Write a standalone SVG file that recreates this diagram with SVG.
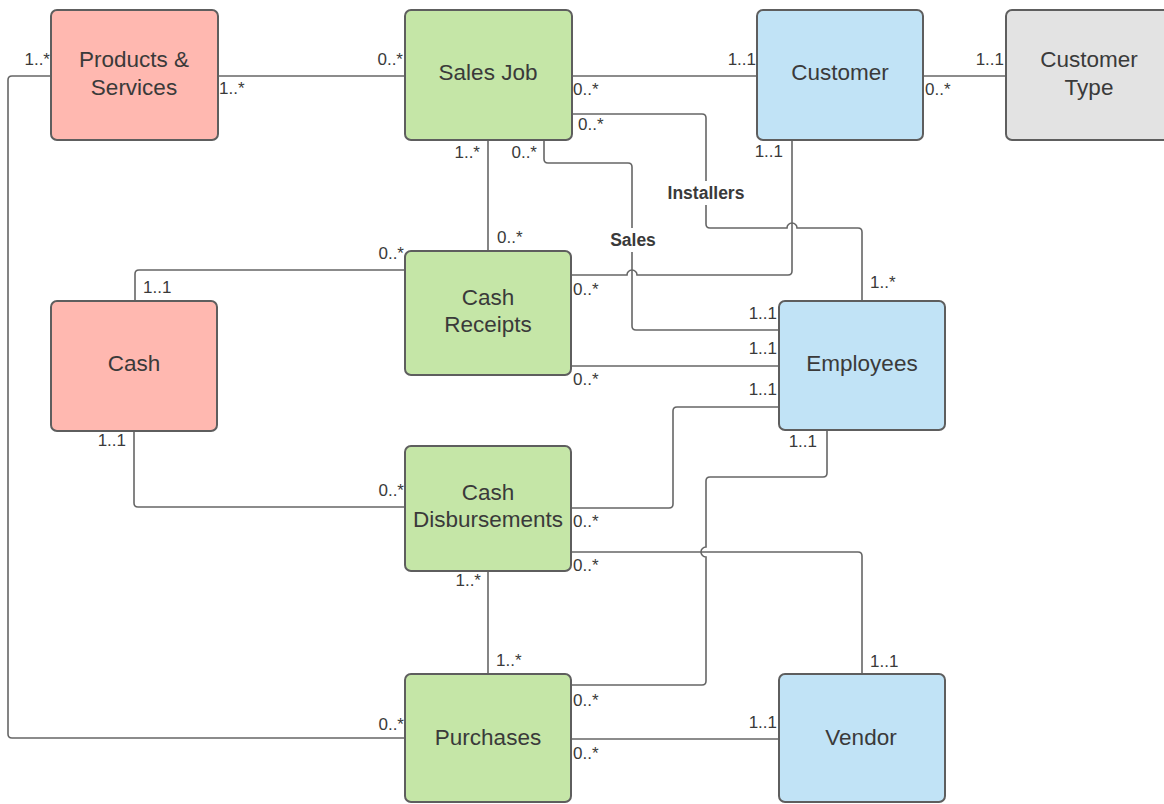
<svg xmlns="http://www.w3.org/2000/svg" width="1164" height="804" viewBox="0 0 1164 804">
<style>
.box{stroke:#5e5e5e;stroke-width:2}
.red{fill:#ffb8b0}.green{fill:#c5e6a7}.blue{fill:#c1e3f6}.gray{fill:#e3e3e3}
.nt{font-family:"Liberation Sans",Arial,sans-serif;font-size:22.5px;fill:#3a3a3a;text-anchor:middle;dominant-baseline:central}
.conn path{fill:none;stroke:#666;stroke-width:1.6}
.lb{font-family:"Liberation Sans",Arial,sans-serif;font-size:17px;fill:#3a3a3a}
.e{text-anchor:end}
.bl{font-family:"Liberation Sans",Arial,sans-serif;font-size:17.5px;font-weight:bold;fill:#3a3a3a;text-anchor:middle;dominant-baseline:central}
</style>
<rect width="1164" height="804" fill="#ffffff"/>
<g id="connectors" class="conn">
<path d="M218,76 H405"/>
<path d="M51,76 H12 Q8,76 8,80 V734 Q8,738 12,738 H405"/>
<path d="M572,76 H757"/>
<path d="M923,76 H1006"/>
<path d="M572,114 H702 Q706,114 706,118 V224 Q706,228 710,228 H787 A5,5 0 0 1 797,228 H858 Q862,228 862,232 V301"/>
<path d="M544,140 V159 Q544,163 548,163 H628 Q632,163 632,167 V326 Q632,330 636,330 H779"/>
<path d="M488,140 V251"/>
<path d="M405,270 H139 Q135,270 135,274 V301"/>
<path d="M571,275 H627 A5,5 0 0 1 637,275 H788 Q792,275 792,271 V140"/>
<path d="M571,366 H779"/>
<path d="M571,508 H669 Q673,508 673,504 V411 Q673,407 677,407 H779"/>
<path d="M827,430 V473 Q827,477 823,477 H710 Q706,477 706,481 V547 A5,5 0 0 0 706,557 V681 Q706,685 702,685 H571"/>
<path d="M571,552 H858 Q862,552 862,556 V674"/>
<path d="M134,431 V503 Q134,507 138,507 H405"/>
<path d="M488,571 V674"/>
<path d="M571,739 H779"/>
<rect x="662" y="181" width="88" height="24" fill="#ffffff"/>
<text class="bl" x="706" y="193">Installers</text>
<rect x="606" y="228" width="54" height="24" fill="#ffffff"/>
<text class="bl" x="633" y="240">Sales</text>
<text class="lb e" x="50" y="65">1..*</text>
<text class="lb" x="219" y="94">1..*</text>
<text class="lb e" x="403" y="65">0..*</text>
<text class="lb" x="573" y="95">0..*</text>
<text class="lb e" x="756" y="65">1..1</text>
<text class="lb" x="925" y="95">0..*</text>
<text class="lb e" x="1004" y="65">1..1</text>
<text class="lb" x="578" y="130">0..*</text>
<text class="lb" x="870" y="288">1..*</text>
<text class="lb e" x="537" y="158">0..*</text>
<text class="lb e" x="777" y="319">1..1</text>
<text class="lb e" x="480" y="158">1..*</text>
<text class="lb" x="497" y="243">0..*</text>
<text class="lb e" x="404" y="259">0..*</text>
<text class="lb" x="143" y="293">1..1</text>
<text class="lb" x="573" y="295">0..*</text>
<text class="lb e" x="783" y="157">1..1</text>
<text class="lb" x="573" y="385">0..*</text>
<text class="lb e" x="777" y="354">1..1</text>
<text class="lb" x="573" y="527">0..*</text>
<text class="lb e" x="777" y="395">1..1</text>
<text class="lb e" x="817" y="447">1..1</text>
<text class="lb" x="573" y="706">0..*</text>
<text class="lb" x="573" y="571">0..*</text>
<text class="lb" x="870" y="667">1..1</text>
<text class="lb e" x="126" y="446">1..1</text>
<text class="lb e" x="404" y="496">0..*</text>
<text class="lb e" x="481" y="586">1..*</text>
<text class="lb" x="496" y="666">1..*</text>
<text class="lb" x="573" y="759">0..*</text>
<text class="lb e" x="777" y="728">1..1</text>
<text class="lb e" x="404" y="730">0..*</text>
</g>
<g id="products-services"><rect class="box red" x="51" y="10" width="167" height="130" rx="6"/><text class="nt" x="134" y="59">Products &amp;</text><text class="nt" x="134" y="87">Services</text></g>
<g id="sales-job"><rect class="box green" x="405" y="10" width="167" height="130" rx="6"/><text class="nt" x="488" y="72">Sales Job</text></g>
<g id="customer"><rect class="box blue" x="757" y="10" width="166" height="130" rx="6"/><text class="nt" x="840" y="72">Customer</text></g>
<g id="customer-type"><rect class="box gray" x="1006" y="10" width="167" height="130" rx="6"/><text class="nt" x="1089" y="59">Customer</text><text class="nt" x="1089" y="87">Type</text></g>
<g id="cash-receipts"><rect class="box green" x="405" y="251" width="166" height="124" rx="6"/><text class="nt" x="488" y="297">Cash</text><text class="nt" x="488" y="324">Receipts</text></g>
<g id="cash"><rect class="box red" x="51" y="301" width="166" height="130" rx="6"/><text class="nt" x="134" y="363">Cash</text></g>
<g id="employees"><rect class="box blue" x="779" y="301" width="166" height="129" rx="6"/><text class="nt" x="862" y="363">Employees</text></g>
<g id="cash-disbursements"><rect class="box green" x="405" y="446" width="166" height="125" rx="6"/><text class="nt" x="488" y="492">Cash</text><text class="nt" x="488" y="519">Disbursements</text></g>
<g id="purchases"><rect class="box green" x="405" y="674" width="166" height="128" rx="6"/><text class="nt" x="488" y="737">Purchases</text></g>
<g id="vendor"><rect class="box blue" x="779" y="674" width="166" height="128" rx="6"/><text class="nt" x="861" y="737">Vendor</text></g>
</svg>
